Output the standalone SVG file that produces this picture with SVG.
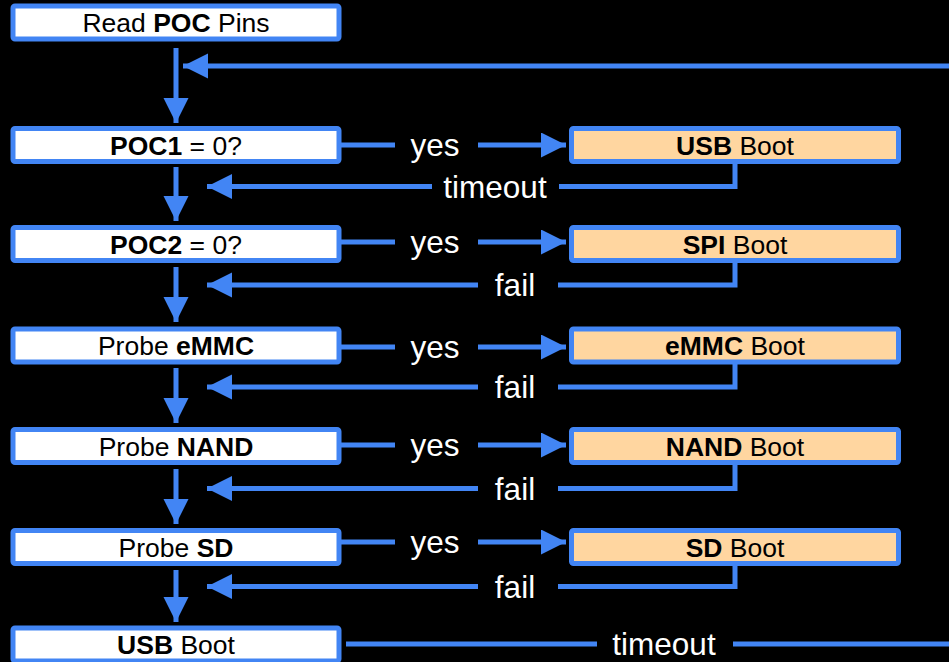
<svg xmlns="http://www.w3.org/2000/svg" width="949" height="662" viewBox="0 0 949 662">
  <style>
    .step rect { fill: #ffffff; stroke: #4285f4; stroke-width: 5; }
    .boot rect { fill: #ffd6a0; stroke: #4285f4; stroke-width: 5; }
    .step text, .boot text { font-family: "Liberation Sans", Arial, sans-serif; font-size: 26.5px; fill: #000000; text-anchor: middle; }
    .b { font-weight: bold; }
    .wire { fill: none; stroke: #4285f4; stroke-width: 5; }
    .lbl { font-family: "Liberation Sans", Arial, sans-serif; font-size: 31.5px; fill: #ffffff; text-anchor: middle; }
  </style>
  <defs>
    <marker id="head" markerUnits="userSpaceOnUse" markerWidth="26" markerHeight="26" refX="25" refY="12.5" orient="auto">
      <path d="M0,0 L25,12.5 L0,25 Z" fill="#4285f4"/>
    </marker>
  </defs>

  <rect x="0" y="0" width="949" height="662" fill="#000000"/>

  <!-- connectors -->
  <g id="connectors">
    <!-- main downward flow -->
    <line class="wire" x1="176" y1="48" x2="176" y2="123" marker-end="url(#head)"/>
    <line class="wire" x1="176" y1="167" x2="176" y2="221" marker-end="url(#head)"/>
    <line class="wire" x1="176" y1="267" x2="176" y2="322" marker-end="url(#head)"/>
    <line class="wire" x1="176" y1="368" x2="176" y2="423" marker-end="url(#head)"/>
    <line class="wire" x1="176" y1="469" x2="176" y2="524" marker-end="url(#head)"/>
    <line class="wire" x1="176" y1="570" x2="176" y2="622" marker-end="url(#head)"/>

    <!-- loop back to the start -->
    <line class="wire" x1="949" y1="66" x2="183" y2="66" marker-end="url(#head)"/>

    <!-- yes branches -->
    <line class="wire" x1="341" y1="145" x2="395" y2="145"/>
    <line class="wire" x1="478" y1="145" x2="566" y2="145" marker-end="url(#head)"/>
    <line class="wire" x1="341" y1="242" x2="395" y2="242"/>
    <line class="wire" x1="478" y1="242" x2="566" y2="242" marker-end="url(#head)"/>
    <line class="wire" x1="341" y1="347" x2="395" y2="347"/>
    <line class="wire" x1="478" y1="347" x2="566" y2="347" marker-end="url(#head)"/>
    <line class="wire" x1="341" y1="445" x2="395" y2="445"/>
    <line class="wire" x1="478" y1="445" x2="566" y2="445" marker-end="url(#head)"/>
    <line class="wire" x1="341" y1="542" x2="395" y2="542"/>
    <line class="wire" x1="478" y1="542" x2="566" y2="542" marker-end="url(#head)"/>

    <!-- timeout / fail returns -->
    <polyline class="wire" points="735,164 735,186.5 559,186.5"/>
    <line class="wire" x1="432" y1="186.5" x2="207" y2="186.5" marker-end="url(#head)"/>
    <polyline class="wire" points="735,262 735,285 558,285"/>
    <line class="wire" x1="478" y1="285" x2="207" y2="285" marker-end="url(#head)"/>
    <polyline class="wire" points="735,364 735,387 558,387"/>
    <line class="wire" x1="478" y1="387" x2="207" y2="387" marker-end="url(#head)"/>
    <polyline class="wire" points="735,465 735,488.5 558,488.5"/>
    <line class="wire" x1="478" y1="488.5" x2="207" y2="488.5" marker-end="url(#head)"/>
    <polyline class="wire" points="735,566 735,586.5 558,586.5"/>
    <line class="wire" x1="478" y1="586.5" x2="207" y2="586.5" marker-end="url(#head)"/>

    <!-- final timeout -->
    <line class="wire" x1="346" y1="644" x2="597" y2="644"/>
    <line class="wire" x1="733" y1="644" x2="949" y2="644"/>

    <text class="lbl" x="435" y="155.5">yes</text>
    <text class="lbl" x="435" y="252.5">yes</text>
    <text class="lbl" x="435" y="357.5">yes</text>
    <text class="lbl" x="435" y="455.5">yes</text>
    <text class="lbl" x="435" y="552.5">yes</text>
    <text class="lbl" x="495" y="197.5">timeout</text>
    <text class="lbl" x="515" y="296">fail</text>
    <text class="lbl" x="515" y="398">fail</text>
    <text class="lbl" x="515" y="499.5">fail</text>
    <text class="lbl" x="515" y="597.5">fail</text>
    <text class="lbl" x="664" y="654.5">timeout</text>
  </g>

  <!-- decision / probe steps -->
  <g id="read-poc" class="step">
    <rect x="13" y="6" width="326" height="33" rx="2"/>
    <text x="176" y="31.5">Read <tspan class="b">POC</tspan> Pins</text>
  </g>
  <g id="poc1" class="step">
    <rect x="13" y="128.5" width="326" height="33" rx="2"/>
    <text x="176" y="154.5">
      <tspan class="b">POC1</tspan> = 0?</text>
  </g>
  <g id="poc2" class="step">
    <rect x="13" y="227.5" width="326" height="33" rx="2"/>
    <text x="176" y="253.5">
      <tspan class="b">POC2</tspan> = 0?</text>
  </g>
  <g id="probe-emmc" class="step">
    <rect x="13" y="329" width="326" height="33" rx="2"/>
    <text x="176" y="355">Probe <tspan class="b">eMMC</tspan></text>
  </g>
  <g id="probe-nand" class="step">
    <rect x="13" y="429.5" width="326" height="33" rx="2"/>
    <text x="176" y="455.5">Probe <tspan class="b">NAND</tspan></text>
  </g>
  <g id="probe-sd" class="step">
    <rect x="13" y="530.5" width="326" height="33" rx="2"/>
    <text x="176" y="556.5">Probe <tspan class="b">SD</tspan></text>
  </g>
  <g id="usb-fallback" class="step">
    <rect x="13" y="628" width="326" height="33" rx="2"/>
    <text x="176" y="654">
      <tspan class="b">USB</tspan> Boot</text>
  </g>

  <!-- boot targets -->
  <g id="usb-boot" class="boot">
    <rect x="571.5" y="128.5" width="327" height="33" rx="2"/>
    <text x="735" y="154.5">
      <tspan class="b">USB</tspan> Boot</text>
  </g>
  <g id="spi-boot" class="boot">
    <rect x="571.5" y="227.5" width="327" height="33" rx="2"/>
    <text x="735" y="253.5">
      <tspan class="b">SPI</tspan> Boot</text>
  </g>
  <g id="emmc-boot" class="boot">
    <rect x="571.5" y="329" width="327" height="33" rx="2"/>
    <text x="735" y="355">
      <tspan class="b">eMMC</tspan> Boot</text>
  </g>
  <g id="nand-boot" class="boot">
    <rect x="571.5" y="429.5" width="327" height="33" rx="2"/>
    <text x="735" y="455.5">
      <tspan class="b">NAND</tspan> Boot</text>
  </g>
  <g id="sd-boot" class="boot">
    <rect x="571.5" y="530.5" width="327" height="33" rx="2"/>
    <text x="735" y="556.5">
      <tspan class="b">SD</tspan> Boot</text>
  </g>
</svg>
